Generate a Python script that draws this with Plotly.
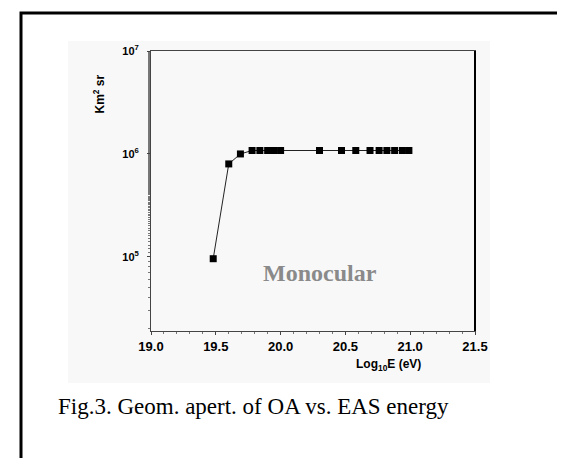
import plotly.graph_objects as go

# Data
log_energy = [19.48, 19.60, 19.69, 19.78, 19.84, 19.90, 19.95, 20.00, 20.30,
               20.47, 20.58, 20.69, 20.76, 20.82, 20.88, 20.94, 20.99]
aperture = [9.6e4, 8.0e5, 1.0e6, 1.08e6, 1.08e6, 1.08e6, 1.08e6, 1.08e6, 1.08e6,
            1.08e6, 1.08e6, 1.08e6, 1.08e6, 1.08e6, 1.08e6, 1.08e6, 1.08e6]
x_ticks = [19.0, 19.5, 20.0, 20.5, 21.0, 21.5]
x_tick_text = ["19.0", "19.5", "20.0", "20.5", "21.0", "21.5"]
y_ticks = [1e5, 1e6, 1e7]
y_tick_text = ["10<sup>5</sup>", "10<sup>6</sup>", "10<sup>7</sup>"]

W, H = 565, 458
L, R, T, B = 143, 98, 43, 135
PW, PH = W - L - R, H - T - B

def px(x):
    return (x - L) / PW

def py(y):
    return (H - B - y) / PH

fig = go.Figure()
fig.add_trace(go.Scatter(
    x=log_energy, y=aperture, mode="lines+markers",
    line=dict(color="#222222", width=1),
    marker=dict(symbol="square", size=7, color="black"),
    showlegend=False,
))

fig.update_layout(
    width=W, height=H,
    margin=dict(l=L, r=R, t=T, b=B),
    paper_bgcolor="white",
    plot_bgcolor="#ececec",
    xaxis=dict(
        range=[19.0, 21.5], tickvals=x_ticks, ticktext=x_tick_text,
        showgrid=False, zeroline=False,
        showline=True, linecolor="#444444", linewidth=1, mirror=True,
        ticks="outside", ticklen=3, tickcolor="#444444",
        minor=dict(ticks="outside", ticklen=2, dtick=0.1, tickcolor="#777777"),
        tickfont=dict(family="Liberation Sans, Arial", size=13, color="black", weight="bold"),
    ),
    yaxis=dict(
        type="log", range=[4.28, 7.0], tickvals=y_ticks, ticktext=y_tick_text,
        showgrid=False, zeroline=False,
        showline=True, linecolor="#444444", linewidth=1, mirror=True,
        ticks="outside", ticklen=3, tickcolor="#444444",
        minor=dict(ticks="outside", ticklen=2, tickcolor="#777777", showgrid=False),
        tickfont=dict(family="Liberation Sans, Arial", size=11, color="black", weight="bold"),
        ticklabelstandoff=6,
    ),
    shapes=[
        # faint textured background of the original chart image
        dict(type="rect", xref="paper", yref="paper",
             x0=px(60), x1=px(482), y0=py(375), y1=py(33),
             fillcolor="#f8f8f8", line=dict(width=0), layer="below"),
        # solid right border of the plot
        dict(type="line", xref="paper", yref="paper",
             x0=1, x1=1, y0=0, y1=1, line=dict(color="black", width=2)),
        # outer frame
        dict(type="rect", xref="paper", yref="paper",
             x0=px(13), x1=px(640), y0=py(520), y1=py(5),
             line=dict(color="black", width=3), fillcolor="rgba(0,0,0,0)"),
    ],
    annotations=[
        dict(text="Km<sup>2</sup> sr", xref="paper", yref="paper",
             x=px(80), y=py(65), textangle=-90, showarrow=False,
             font=dict(family="Liberation Sans, Arial", size=12, color="black", weight="bold")),
        dict(text="Log<sub>10</sub>E (eV)", xref="paper", yref="paper",
             x=px(415), y=py(367), showarrow=False,
             font=dict(family="Liberation Sans, Arial", size=12, color="black", weight="bold")),
        dict(text="Monocular", xref="paper", yref="paper",
             x=px(312), y=py(280), showarrow=False,
             font=dict(family="Liberation Serif, Times New Roman", size=24, color="#8a8a8a", weight="bold")),
        dict(text="Fig.3. Geom. apert. of OA vs. EAS energy", xref="paper", yref="paper",
             x=px(48), y=py(413), xanchor="left", showarrow=False,
             font=dict(family="Liberation Serif, Times New Roman", size=23, color="black")),
    ],
)

fig.write_html("out.html")
